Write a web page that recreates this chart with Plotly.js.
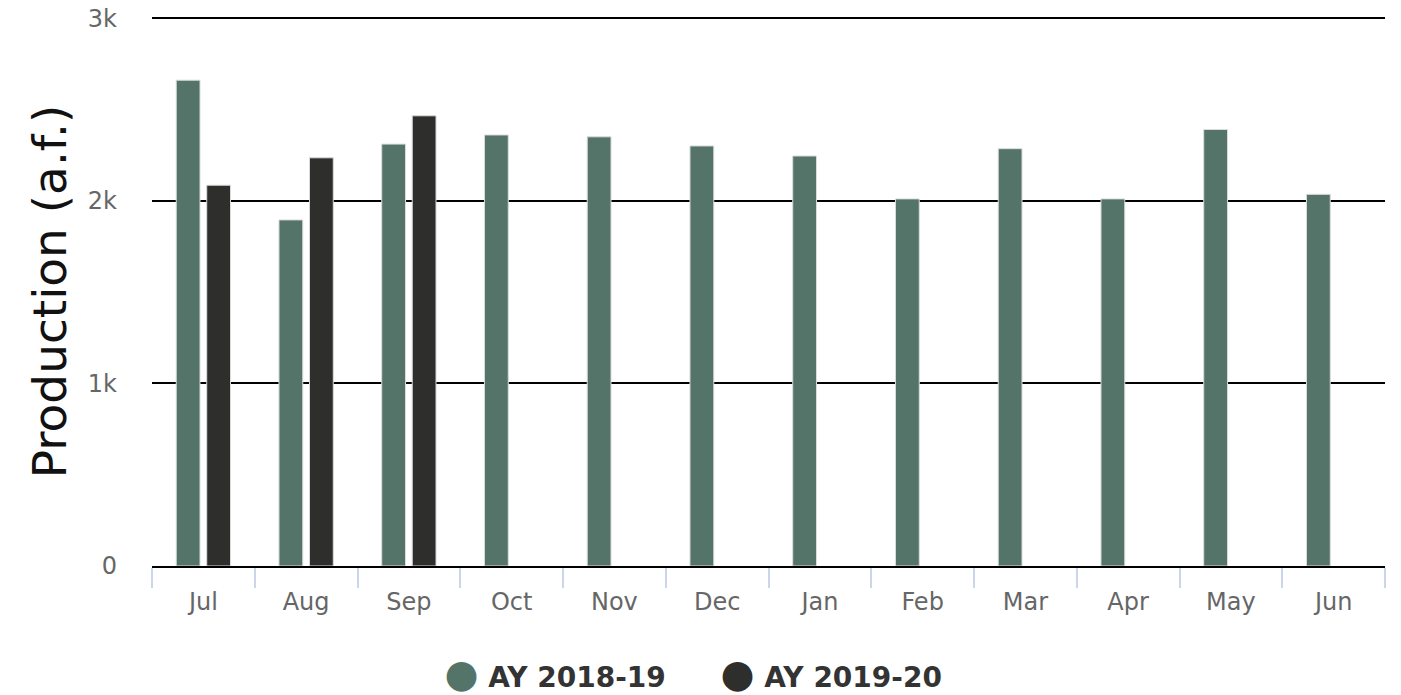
<!DOCTYPE html>
<html>
<head>
<meta charset="utf-8">
<script src="https://cdn.plot.ly/plotly-3.0.1.min.js"></script>
<style>html,body{margin:0;padding:0;background:#fff}#chart{width:1401px;height:695px}</style>
</head>
<body>
<div id="chart"></div>
<script>
const months = ["Jul","Aug","Sep","Oct","Nov","Dec","Jan","Feb","Mar","Apr","May","Jun"];
const ay2018_19 = [2660, 1895, 2310, 2360, 2350, 2300, 2245, 2010, 2285, 2010, 2390, 2035];
const ay2019_20 = [2085, 2235, 2465, null, null, null, null, null, null, null, null, null];
const seriesNames = ["AY 2018-19", "AY 2019-20"];
const seriesColors = ["#557469", "#2e2e2c"];
const yTickVals = [0, 1000, 2000, 3000];
const yTickText = ["0", "1k", "2k", "3k"];

const FONT = "DejaVu Sans, Verdana, sans-serif";
const NB = "\u00a0";

function legendLabel(i, pad) {
  return '<span style="color:' + seriesColors[i] + ';font-size:39px">\u25CF</span>' + NB + seriesNames[i] + pad;
}

const data = [
  {type: "bar", x: months, y: ay2018_19, name: seriesNames[0], showlegend: false,
   marker: {color: seriesColors[0], line: {color: "#dcdcdc", width: 1}}, hoverinfo: "x+y+name"},
  {type: "bar", x: months, y: ay2019_20, name: seriesNames[1], showlegend: false,
   marker: {color: seriesColors[1], line: {color: "#dcdcdc", width: 1}}, hoverinfo: "x+y+name"},
  {type: "scatter", mode: "markers", x: [null], y: [null], name: legendLabel(0, NB), showlegend: true,
   marker: {color: "rgba(0,0,0,0)", size: 1}},
  {type: "scatter", mode: "markers", x: [null], y: [null], name: legendLabel(1, ""), showlegend: true,
   marker: {color: "rgba(0,0,0,0)", size: 1}}
];

const layout = {
  width: 1401, height: 695,
  margin: {l: 152, r: 16, t: 17, b: 129, autoexpand: false},
  paper_bgcolor: "#fff", plot_bgcolor: "#fff",
  font: {family: FONT, color: "#666"},
  barmode: "group",
  bargap: 0.406,
  bargroupgap: 0.22,
  showlegend: true,
  legend: {orientation: "h", x: 0.425, xanchor: "center", y: -0.2007, yanchor: "middle",
           font: {family: FONT, size: 28, color: "#333", weight: "bold"},
           itemwidth: 30, tracegroupgap: 0},
  xaxis: {
    type: "category", categoryorder: "array", categoryarray: months,
    range: [-0.5, 11.5],
    showgrid: false, zeroline: false,
    showline: true, linecolor: "#000", linewidth: 2,
    ticks: "outside", tickson: "boundaries", ticklen: 20, tickwidth: 2, tickcolor: "#ccd6eb",
    ticklabelstandoff: 13,
    tickfont: {family: FONT, size: 24, color: "#666"},
    fixedrange: true
  },
  yaxis: {
    range: [0, 3006], tickvals: yTickVals, ticktext: yTickText,
    showgrid: true, gridcolor: "#000", gridwidth: 2,
    zeroline: false, showline: false,
    ticks: "", ticklabelstandoff: 34,
    tickfont: {family: FONT, size: 24, color: "#666"},
    title: {text: "Production (a.f.)", font: {family: FONT, size: 47, color: "#111"}, standoff: 6},
    automargin: false,
    fixedrange: true
  }
};

Plotly.newPlot("chart", data, layout, {displayModeBar: false});
</script>
</body>
</html>
